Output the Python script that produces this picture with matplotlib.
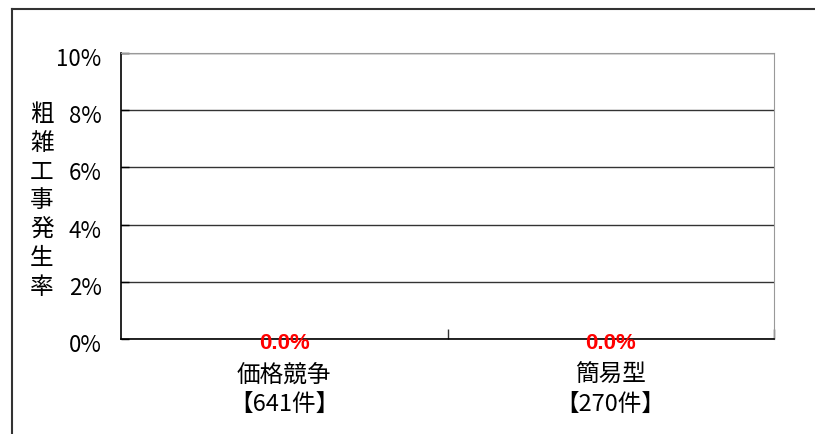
import matplotlib.pyplot as plt
from matplotlib.lines import Line2D
from matplotlib.ticker import FuncFormatter, FixedLocator
from matplotlib.transforms import ScaledTranslation

plt.rcParams["font.family"] = ["Noto Sans CJK JP", "DejaVu Sans"]

CATEGORIES = ["価格競争\n【641件】", "簡易型\n【270件】"]
RATES = [0.0, 0.0]  # 粗雑工事発生率 (%)
Y_TICKS = [0, 2, 4, 6, 8, 10]
Y_LABEL = "粗雑工事発生率"

W, H = 815, 435
fig = plt.figure(figsize=(W / 100, H / 100), dpi=100, facecolor="white")
ax = fig.add_axes([121 / W, 1 - 340 / H, (774 - 121) / W, (340 - 54) / H])

x = list(range(len(CATEGORIES)))
ax.bar(x, RATES, width=0.5, color="#4f81bd")
ax.set_xlim(-0.5, len(CATEGORIES) - 0.5)
ax.set_ylim(0, 10)

# y axis
ax.yaxis.set_major_locator(FixedLocator(Y_TICKS))
ax.yaxis.set_major_formatter(FuncFormatter(lambda v, _: f"{v:.0f}%"))
ax.tick_params(axis="y", direction="in", length=6, width=1, pad=14,
               labelsize=16, colors="black")
shift = ScaledTranslation(0, -3 / 100, fig.dpi_scale_trans)
for lbl in ax.get_yticklabels():
    lbl.set_transform(lbl.get_transform() + shift)
ax.grid(axis="y", color="#333333", linewidth=1)
ax.set_axisbelow(True)

# x axis: category labels at centres, divider ticks between them
ax.set_xticks(x, CATEGORIES)
ax.tick_params(axis="x", which="major", length=0, pad=17, labelsize=17)
for lbl in ax.get_xticklabels():
    lbl.set_linespacing(1.33)
ax.set_xticks([i + 0.5 for i in x], minor=True)
ax.tick_params(axis="x", which="minor", direction="in", length=7, width=1,
               color="#333333")

for side in ("top", "right"):
    ax.spines[side].set_color("#999999")
for side in ("left", "bottom"):
    ax.spines[side].set_color("black")
    ax.spines[side].set_linewidth(1.2)

# y label stacked vertically
ax.set_ylabel("\n".join(Y_LABEL), rotation=0, fontsize=17, linespacing=1.33,
              va="center", ha="center")
ax.yaxis.set_label_coords((42 - 121) / (774 - 121), 0.5 + (197 - 201) / 286)

# value labels
for xi, v in zip(x, RATES):
    ax.annotate(f"{v:.1f}%", (xi, v), xytext=(0, -2.5), textcoords="offset points",
                ha="center", va="center", color="red", fontsize=16,
                fontweight="bold", family=["Liberation Sans", "DejaVu Sans"],
                zorder=10, annotation_clip=False)

# outer frame (cropped chart area border)
fig.add_artist(Line2D([12 / W, 1], [1 - 10 / H, 1 - 10 / H], color="#333333",
                      linewidth=1.5, transform=fig.transFigure))
fig.add_artist(Line2D([12 / W, 12 / W], [1 - 10 / H, 0], color="#333333",
                      linewidth=1.5, transform=fig.transFigure))

fig.savefig("out.png", dpi=100, facecolor="white")
